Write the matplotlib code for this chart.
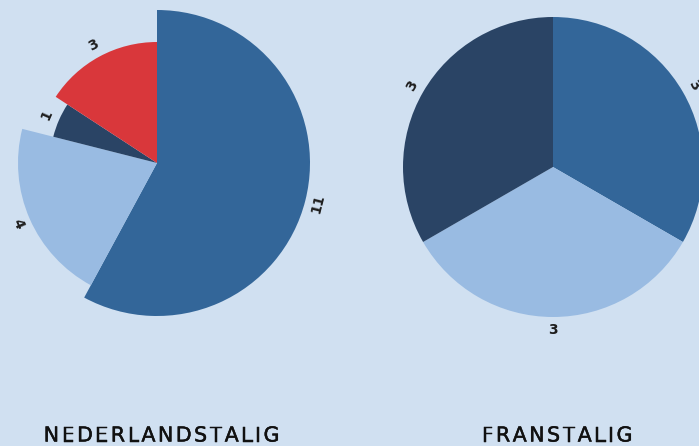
import matplotlib
matplotlib.use("Agg")
import matplotlib.pyplot as plt
import matplotlib.patheffects as pe
from matplotlib.font_manager import FontProperties
import numpy as np

# ---- data ----
nl_labels = ["11", "4", "1", "3"]
nl_values = [11, 4, 1, 3]
nl_radius = [153, 139, 107, 121]          # relative outer radius per slice (px)
fr_labels = ["3", "3", "3"]
fr_values = [3, 3, 3]
fr_radius = [150, 150, 150]
titles = ["NEDERLANDSTALIG", "FRANSTALIG"]

nl_colors = ["#336699", "#99bbe2", "#2a4465", "#d9373b"]
fr_colors = ["#336699", "#99bbe2", "#2a4465"]
BG = "#d0e0f1"

W, H = 699, 446
fig = plt.figure(figsize=(W / 100, H / 100), dpi=100, facecolor=BG)
ax = fig.add_axes([0, 0, 1, 1])
ax.set_facecolor(BG)


def draw_pie(values, labels, radii, colors, center):
    cx, cy = center
    wedges, _ = ax.pie(values, colors=colors, startangle=90, counterclock=False,
                       radius=max(radii), center=center,
                       wedgeprops=dict(linewidth=0))
    for w, r, lab in zip(wedges, radii, labels):
        w.set_radius(r)
        mid = 0.5 * (w.theta1 + w.theta2)
        a = np.deg2rad(mid)
        R = r + 13
        x = cx + R * np.cos(a)
        y = cy + R * np.sin(a)
        rot = (mid + 90) % 360
        if rot > 180:
            rot -= 360
        if rot > 90:
            rot -= 180
        elif rot < -90:
            rot += 180
        ax.text(x, y, lab, ha="center", va="center", rotation=rot,
                rotation_mode="anchor", fontsize=10, fontweight="bold",
                color="#1e1e1e", family="DejaVu Sans")


draw_pie(nl_values, nl_labels, nl_radius, nl_colors, (157, H - 163))
draw_pie(fr_values, fr_labels, fr_radius, fr_colors, (553, H - 167))

ax.set_xlim(0, W)
ax.set_ylim(0, H)
ax.set_aspect("auto")
ax.set_axis_off()

# tracked (letter-spaced) titles
fp = FontProperties(family="DejaVu Sans", size=14.8)
renderer = fig.canvas.get_renderer()
bold_fx = [pe.withStroke(linewidth=0.35, foreground="#111111")]


def tracked_text(s, cx, cy, tracking):
    widths = [renderer.get_text_width_height_descent(c, fp, ismath=False)[0] for c in s]
    total = sum(widths) + tracking * (len(s) - 1)
    x = cx - total / 2
    for c, w in zip(s, widths):
        ax.text(x, cy, c, ha="left", va="center", fontproperties=fp,
                color="#111111", path_effects=bold_fx)
        x += w + tracking


tracked_text(titles[0], 161.5, H - 435.5, 2.5)
tracked_text(titles[1], 557, H - 435.5, 2.5)

fig.savefig("out.png", dpi=100, facecolor=BG)
